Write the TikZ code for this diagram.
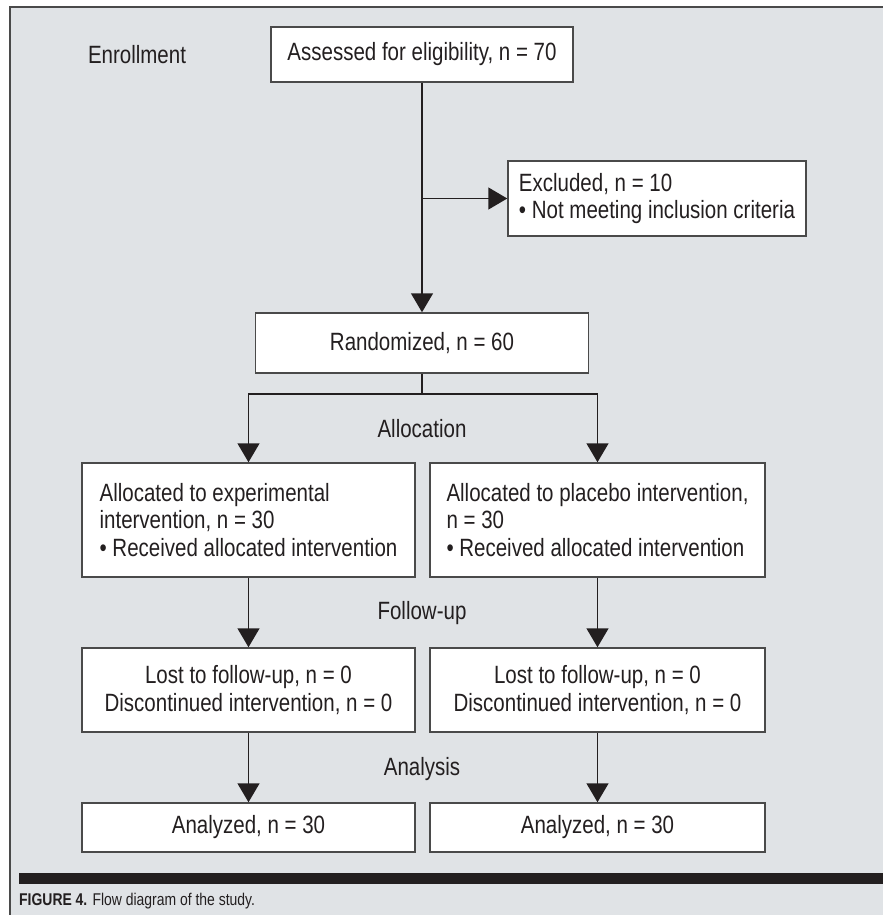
\documentclass[tikz,border=0pt]{standalone}
\usepackage{fontspec}
\setmainfont{Liberation Sans}[FakeStretch=0.82]
\usetikzlibrary{arrows.meta,calc}
\definecolor{panelgray}{HTML}{E0E3E6}
\definecolor{inkdark}{HTML}{231F20}
\definecolor{framegray}{HTML}{4A4A4A}

\tikzset{
  flowbox/.style={rectangle, draw=framegray, fill=white, line width=1.5pt, inner sep=0pt,
    text=inkdark, font=\fontsize{25pt}{27.5pt}\selectfont},
  leftbox/.style={flowbox, align=left},
  stagelabel/.style={text=inkdark, font=\fontsize{25pt}{27.5pt}\selectfont},
  arr/.style={draw=inkdark, line width=1.5pt, -{Triangle[width=22pt,length=19pt]}},
  link/.style={draw=inkdark, line width=1.5pt}
}

\begin{document}
\begin{tikzpicture}[x=1pt, y=-1pt]
  \useasboundingbox (0,0) rectangle (883,915);
  % panel
  \fill[white] (0,0) rectangle (883,915);
  \fill[panelgray] (10,7) rectangle (883,915);
  \draw[framegray, line width=2pt] (10,915) -- (10,7) -- (883,7);

  % enrollment
  \node[stagelabel] (enrol) at (137,54.5) {Enrollment};
  \node[flowbox, minimum width=302pt, minimum height=55pt] (assess) at (422,54.5) {Assessed for eligibility, n = 70};
  \node[leftbox, minimum width=298pt, minimum height=75pt] (excl) at (657,198.5)
    {Excluded, n = 10\\\textbullet\ Not meeting inclusion criteria};
  \node[flowbox, minimum width=333pt, minimum height=60pt] (rand) at (422,343) {Randomized, n = 60};

  % allocation
  \node[stagelabel] (lblalloc) at (422,429) {Allocation};
  \node[leftbox, minimum width=333pt, minimum height=114pt] (allocL) at (248.5,520)
    {Allocated to experimental\\intervention, n = 30\\\textbullet\ Received allocated intervention};
  \node[leftbox, minimum width=335pt, minimum height=114pt] (allocR) at (597.5,520)
    {Allocated to placebo intervention,\\n = 30\\\textbullet\ Received allocated intervention};

  % follow-up
  \node[stagelabel] (lblfollow) at (422,613) {Follow-up};
  \foreach \side/\cx/\w in {L/248.5/333, R/597.5/335} {
    \node[flowbox, align=center, minimum width=\w pt, minimum height=84pt] (follow\side) at (\cx,690)
      {Lost to follow-up, n = 0\\Discontinued intervention, n = 0};
  }

  % analysis
  \node[stagelabel] (lblanalysis) at (422,769) {Analysis};
  \foreach \side/\cx/\w in {L/248.5/333, R/597.5/335} {
    \node[flowbox, minimum width=\w pt, minimum height=49pt] (anal\side) at (\cx,827.5) {Analyzed, n = 30};
  }

  % connectors
  \draw[arr] (assess) -- (rand);
  \draw[arr] (excl.west -| assess.south) -- (excl.west);
  \coordinate (split) at ($(rand.south)+(0,20)$);
  \draw[link] (rand.south) -- (split);
  \draw[arr] (split) -| (allocL.north);
  \draw[arr] (split) -| (allocR.north);
  \draw[arr] (allocL) -- (followL);
  \draw[arr] (allocR) -- (followR);
  \draw[arr] (followL) -- (analL);
  \draw[arr] (followR) -- (analR);

  % caption
  \fill[inkdark] (19,873) rectangle (883,884);
  \node[anchor=base west, inner sep=0pt, text=inkdark, font=\fontsize{17pt}{20pt}\selectfont] (caption) at (19,905)
    {\textbf{FIGURE 4.} Flow diagram of the study.};
\end{tikzpicture}
\end{document}
